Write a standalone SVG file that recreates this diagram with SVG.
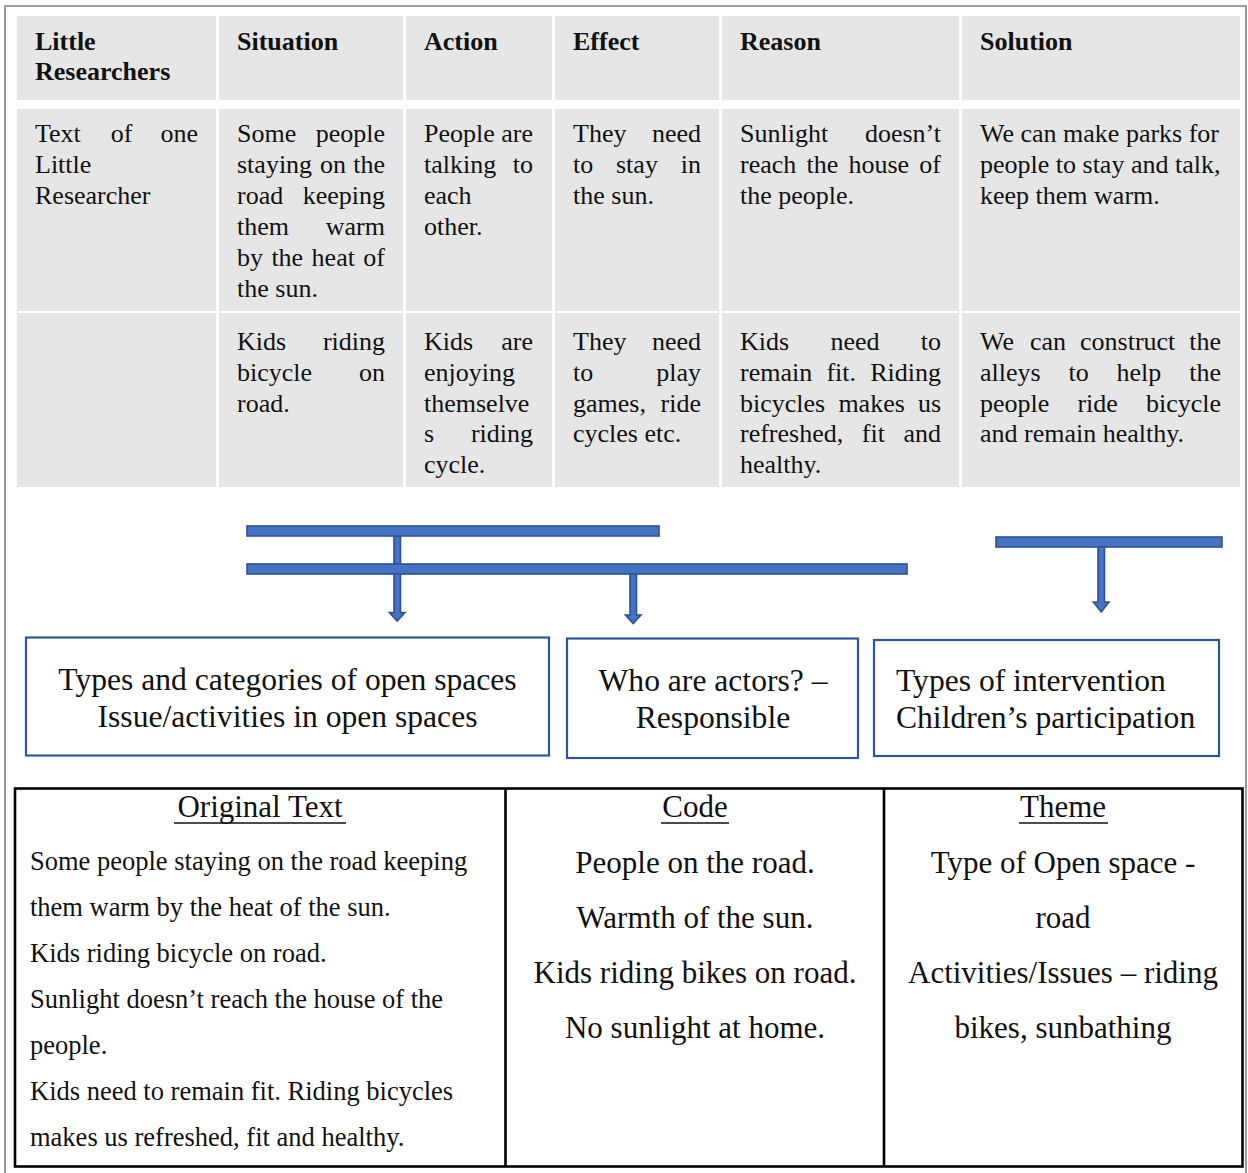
<svg xmlns="http://www.w3.org/2000/svg" width="1248" height="1173" viewBox="0 0 1248 1173">
  <style>
    text { font-family: "Liberation Serif", "Times New Roman", serif; fill: #111; }
    .cell { fill: #e6e6e6; }
    .hd { font-size: 26px; font-weight: bold; }
    .tb { font-size: 26px; }
    .e { text-anchor: end; }
    .box { fill: #ffffff; stroke: #2f5597; stroke-width: 2.2; }
    .bx { font-size: 31.6px; }
    .mid { text-anchor: middle; }
    .bar { fill: #4472c4; stroke: #2f528f; stroke-width: 1.6; }
    .grid { fill: none; stroke: #000; stroke-width: 2.6; }
    .ct { font-size: 31px; }
    .ot { font-size: 26.5px; }
    .ul { stroke: #111; stroke-width: 1.5; }
  </style>
  <defs>
    <marker id="head" viewBox="0 0 10 10" refX="5" refY="10" markerWidth="10" markerHeight="10" markerUnits="userSpaceOnUse" orient="auto-start-reverse">
      <path d="M0 0 L10 0 L5 10 Z" fill="#4472c4" stroke="#2f528f" stroke-width="1"/>
    </marker>
  </defs>

  <rect width="1248" height="1173" fill="#ffffff"/>
  <!-- page frame -->
  <path d="M5 1180 V6 H1246 V1180" fill="none" stroke="#808080" stroke-width="1.6"/>

  <!-- analysis table -->
  <g id="analysis-table">
    <g id="header-row">
      <rect class="cell" x="17" y="16" width="199" height="84"/>
      <rect class="cell" x="219" y="16" width="184" height="84"/>
      <rect class="cell" x="406" y="16" width="146" height="84"/>
      <rect class="cell" x="555" y="16" width="164" height="84"/>
      <rect class="cell" x="722" y="16" width="237" height="84"/>
      <rect class="cell" x="962" y="16" width="278" height="84"/>
      <text class="hd" x="35" y="50">Little</text>
      <text class="hd" x="35" y="80">Researchers</text>
      <text class="hd" x="237" y="50">Situation</text>
      <text class="hd" x="424" y="50">Action</text>
      <text class="hd" x="573" y="50">Effect</text>
      <text class="hd" x="740" y="50">Reason</text>
      <text class="hd" x="980" y="50">Solution</text>
    </g>

    <g id="row-1">
      <rect class="cell" x="17" y="109" width="199" height="202"/>
      <rect class="cell" x="219" y="109" width="184" height="202"/>
      <rect class="cell" x="406" y="109" width="146" height="202"/>
      <rect class="cell" x="555" y="109" width="164" height="202"/>
      <rect class="cell" x="722" y="109" width="237" height="202"/>
      <rect class="cell" x="962" y="109" width="278" height="202"/>
      <g class="tb">
        <text class="tb" x="35" y="142">Text</text>
        <text class="tb" x="110.7" y="142">of</text>
        <text class="tb e" x="198" y="142">one</text>
        <text class="tb" x="35" y="173">Little</text>
        <text class="tb" x="35" y="204">Researcher</text>

        <text class="tb" x="237" y="142">Some</text>
        <text class="tb e" x="385" y="142">people</text>
        <text class="tb" x="237" y="173">staying</text>
        <text class="tb" x="320" y="173">on</text>
        <text class="tb e" x="385" y="173">the</text>
        <text class="tb" x="237" y="204">road</text>
        <text class="tb e" x="385" y="204">keeping</text>
        <text class="tb" x="237" y="235">them</text>
        <text class="tb e" x="385" y="235">warm</text>
        <text class="tb" x="237" y="266">by</text>
        <text class="tb" x="271.4" y="266">the</text>
        <text class="tb" x="311.6" y="266">heat</text>
        <text class="tb e" x="385" y="266">of</text>
        <text class="tb" x="237" y="297">the sun.</text>

        <text class="tb" x="424" y="142">People are</text>
        <text class="tb" x="424" y="173">talking</text>
        <text class="tb e" x="533" y="173">to</text>
        <text class="tb" x="424" y="204">each</text>
        <text class="tb" x="424" y="235">other.</text>

        <text class="tb" x="573" y="142">They</text>
        <text class="tb e" x="701" y="142">need</text>
        <text class="tb" x="573" y="173">to</text>
        <text class="tb" x="616" y="173">stay</text>
        <text class="tb e" x="701" y="173">in</text>
        <text class="tb" x="573" y="204">the sun.</text>

        <text class="tb" x="740" y="142">Sunlight</text>
        <text class="tb e" x="941" y="142">doesn’t</text>
        <text class="tb" x="740" y="173">reach</text>
        <text class="tb" x="806.5" y="173">the</text>
        <text class="tb" x="848.5" y="173">house</text>
        <text class="tb e" x="941" y="173">of</text>
        <text class="tb" x="740" y="204">the people.</text>

        <text class="tb" x="980" y="142">We can make parks for</text>
        <text class="tb" x="980" y="173">people to stay and talk,</text>
        <text class="tb" x="980" y="204">keep them warm.</text>
      </g>
    </g>

    <g id="row-2">
      <rect class="cell" x="17" y="313" width="199" height="174"/>
      <rect class="cell" x="219" y="313" width="184" height="174"/>
      <rect class="cell" x="406" y="313" width="146" height="174"/>
      <rect class="cell" x="555" y="313" width="164" height="174"/>
      <rect class="cell" x="722" y="313" width="237" height="174"/>
      <rect class="cell" x="962" y="313" width="278" height="174"/>

      <text class="tb" x="237" y="350">Kids</text>
      <text class="tb e" x="385" y="350">riding</text>
      <text class="tb" x="237" y="381">bicycle</text>
      <text class="tb e" x="385" y="381">on</text>
      <text class="tb" x="237" y="412">road.</text>

      <text class="tb" x="424" y="350">Kids</text>
      <text class="tb e" x="533" y="350">are</text>
      <text class="tb" x="424" y="381">enjoying</text>
      <text class="tb" x="424" y="412">themselve</text>
      <text class="tb" x="424" y="442">s</text>
      <text class="tb e" x="533" y="442">riding</text>
      <text class="tb" x="424" y="473">cycle.</text>

      <text class="tb" x="573" y="350">They</text>
      <text class="tb e" x="701" y="350">need</text>
      <text class="tb" x="573" y="381">to</text>
      <text class="tb e" x="701" y="381">play</text>
      <text class="tb" x="573" y="412">games,</text>
      <text class="tb e" x="701" y="412">ride</text>
      <text class="tb" x="573" y="442">cycles etc.</text>

      <text class="tb" x="740" y="350">Kids</text>
      <text class="tb" x="830.4" y="350">need</text>
      <text class="tb e" x="941" y="350">to</text>
      <text class="tb" x="740" y="381">remain</text>
      <text class="tb" x="826.4" y="381">fit.</text>
      <text class="tb e" x="941" y="381">Riding</text>
      <text class="tb" x="740" y="412">bicycles</text>
      <text class="tb" x="838.4" y="412">makes</text>
      <text class="tb e" x="941" y="412">us</text>
      <text class="tb" x="740" y="442">refreshed,</text>
      <text class="tb" x="861.8" y="442">fit</text>
      <text class="tb e" x="941" y="442">and</text>
      <text class="tb" x="740" y="473">healthy.</text>

      <text class="tb" x="980" y="350">We</text>
      <text class="tb" x="1030" y="350">can</text>
      <text class="tb" x="1080" y="350">construct</text>
      <text class="tb e" x="1221" y="350">the</text>
      <text class="tb" x="980" y="381">alleys</text>
      <text class="tb" x="1068.5" y="381">to</text>
      <text class="tb" x="1116.5" y="381">help</text>
      <text class="tb e" x="1221" y="381">the</text>
      <text class="tb" x="980" y="412">people</text>
      <text class="tb" x="1077.4" y="412">ride</text>
      <text class="tb e" x="1221" y="412">bicycle</text>
      <text class="tb" x="980" y="442">and remain healthy.</text>
    </g>
  </g>

  <!-- bracket bars and arrows -->
  <g id="connectors">
    <rect class="bar" x="394" y="536" width="6.5" height="28"/>
    <rect class="bar" x="247" y="526" width="412" height="10"/>
    <rect class="bar" x="247" y="564" width="660" height="10"/>
    <rect class="bar" x="996" y="537" width="226" height="10"/>
    <path class="bar" d="M394 574 H400.5 V612.5 H405 L397.2 621 L389.4 612.5 H394 Z"/>
    <path class="bar" d="M630 574 H636.5 V615 H641 L633.2 623.5 L625.4 615 H630 Z"/>
    <path class="bar" d="M1098 547 H1104.5 V602 H1109 L1101.2 612 L1093.4 602 H1098 Z"/>
  </g>

  <!-- theme boxes -->
  <g id="box-open-spaces">
    <rect class="box" x="26" y="637.5" width="523" height="118"/>
    <text class="bx mid" x="287.5" y="690">Types and categories of open spaces</text>
    <text class="bx mid" x="287.5" y="727">Issue/activities in open spaces</text>
  </g>
  <g id="box-actors">
    <rect class="box" x="567" y="638.5" width="291" height="119.5"/>
    <text class="bx mid" x="713" y="691">Who are actors? –</text>
    <text class="bx mid" x="713" y="728">Responsible</text>
  </g>
  <g id="box-intervention">
    <rect class="box" x="874" y="640" width="345" height="116"/>
    <text class="bx" x="896" y="691">Types of intervention</text>
    <text class="bx" x="896" y="728">Children’s participation</text>
  </g>

  <!-- coding table -->
  <g id="coding-table">
    <rect class="grid" x="15" y="788.5" width="1227.5" height="378"/>
    <line class="grid" x1="505.5" y1="788.5" x2="505.5" y2="1166.5"/>
    <line class="grid" x1="884" y1="788.5" x2="884" y2="1166.5"/>

    <g id="col-original">
      <text class="ct mid" x="260" y="817">Original Text</text>
      <line class="ul" x1="174" y1="823" x2="346" y2="823"/>
      <text class="ot" x="30" y="869.5">Some people staying on the road keeping</text>
      <text class="ot" x="30" y="915.5">them warm by the heat of the sun.</text>
      <text class="ot" x="30" y="961.5">Kids riding bicycle on road.</text>
      <text class="ot" x="30" y="1007.5">Sunlight doesn’t reach the house of the</text>
      <text class="ot" x="30" y="1053.5">people.</text>
      <text class="ot" x="30" y="1099.5">Kids need to remain fit. Riding bicycles</text>
      <text class="ot" x="30" y="1145.5">makes us refreshed, fit and healthy.</text>
    </g>
    <g id="col-code">
      <text class="ct mid" x="695" y="817">Code</text>
      <line class="ul" x1="661" y1="823" x2="729" y2="823"/>
      <text class="ct mid" x="695" y="873">People on the road.</text>
      <text class="ct mid" x="695" y="928">Warmth of the sun.</text>
      <text class="ct mid" x="695" y="983">Kids riding bikes on road.</text>
      <text class="ct mid" x="695" y="1038">No sunlight at home.</text>
    </g>
    <g id="col-theme">
      <text class="ct mid" x="1063" y="817">Theme</text>
      <line class="ul" x1="1019" y1="823" x2="1108" y2="823"/>
      <text class="ct mid" x="1063" y="873">Type of Open space -</text>
      <text class="ct mid" x="1063" y="928">road</text>
      <text class="ct mid" x="1063" y="983">Activities/Issues – riding</text>
      <text class="ct mid" x="1063" y="1038">bikes, sunbathing</text>
    </g>
  </g>
</svg>
